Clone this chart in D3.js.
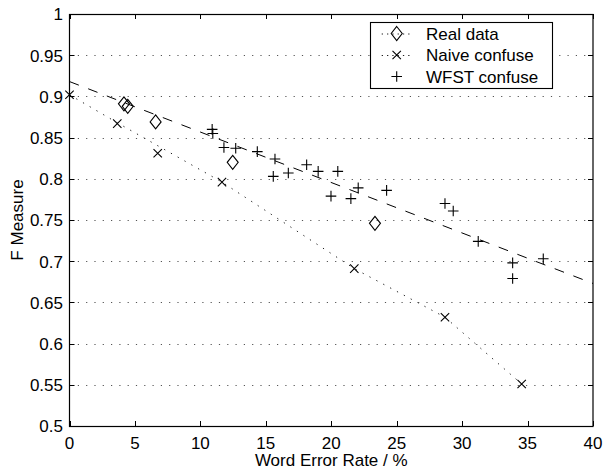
<!DOCTYPE html>
<html>
<head>
<meta charset="utf-8">
<script src="https://cdn.jsdelivr.net/npm/d3@7"></script>
<style>
  html, body { margin: 0; padding: 0; background: #fff; }
  svg { display: block; }
  text { font-family: "Liberation Sans", Arial, Helvetica, sans-serif; fill: #000; }
</style>
</head>
<body>
<script>
// ---- data ----
const realX = [4.16, 4.45, 6.58, 12.47, 23.34];
const realY = [0.891, 0.888, 0.869, 0.820, 0.746];

const naiveX = [0, 3.65, 6.74, 11.65, 21.76, 28.69, 34.55];
const naiveY = [0.902, 0.867, 0.831, 0.796, 0.691, 0.632, 0.551];

const wfstX = [10.9, 10.95, 11.8, 12.7, 14.35, 15.7, 15.57, 16.72, 18.12, 19.0, 20.5, 19.98, 21.5, 22.06, 24.23, 28.69, 29.32, 31.23, 33.86, 33.86, 36.2];
const wfstY = [0.860, 0.855, 0.838, 0.837, 0.833, 0.824, 0.803, 0.807, 0.817, 0.809, 0.809, 0.779, 0.776, 0.789, 0.786, 0.770, 0.761, 0.724, 0.698, 0.679, 0.703];

// fitted trend lines
const wfstFitX = [0, 40];
const wfstFitY = [0.918, 0.673];
const naiveTrendX = [0, 3.65, 11.65, 21.76, 28.69, 34.55];
const naiveTrendY = [0.902, 0.868, 0.796, 0.691, 0.632, 0.551];

const xTicks = [0, 5, 10, 15, 20, 25, 30, 35, 40];
const yTicks = [0.5, 0.55, 0.6, 0.65, 0.7, 0.75, 0.8, 0.85, 0.9, 0.95, 1];
const yTickLabels = ["0.5", "0.55", "0.6", "0.65", "0.7", "0.75", "0.8", "0.85", "0.9", "0.95", "1"];

const legendLabels = ["Real data", "Naive confuse", "WFST confuse"];
const xTitle = "Word Error Rate / %";
const yTitle = "F Measure";

// ---- layout ----
const W = 603, H = 470;
const L = 69.5, R = 593, T = 14, B = 426;
const FS = 17;

const svg = d3.select("body").append("svg").attr("width", W).attr("height", H);
svg.append("rect").attr("width", W).attr("height", H).attr("fill", "#fff");

const x = d3.scaleLinear().domain([0, 40]).range([L, R]);
const y = d3.scaleLinear().domain([0.5, 1]).range([B, T]);

svg.append("clipPath").attr("id", "clip").append("rect")
  .attr("x", L).attr("y", T).attr("width", R - L).attr("height", B - T);

// horizontal dotted grid
svg.append("g").selectAll("line").data(yTicks.slice(1, -1)).join("line")
  .attr("x1", L).attr("x2", R)
  .attr("y1", d => Math.round(y(d)) + 0.5).attr("y2", d => Math.round(y(d)) + 0.5)
  .attr("stroke", "#555").attr("stroke-width", 1).attr("stroke-dasharray", "1.2,7.1");

const plot = svg.append("g").attr("clip-path", "url(#clip)");

// trend lines
const lineGen = (xs, ys) => d3.line().x((d, i) => x(xs[i])).y((d, i) => y(ys[i]))(xs);
plot.append("path").attr("d", lineGen(wfstFitX, wfstFitY))
  .attr("fill", "none").attr("stroke", "#000").attr("stroke-width", 1)
  .attr("stroke-dasharray", "10,10");
plot.append("path").attr("d", lineGen(naiveTrendX, naiveTrendY))
  .attr("fill", "none").attr("stroke", "#222").attr("stroke-width", 1)
  .attr("stroke-dasharray", "1.3,6.5");

// markers
function diamond(g, cx, cy) {
  const w = 5.5, h = 7;
  g.append("path").attr("d", `M${cx},${cy - h}L${cx + w},${cy}L${cx},${cy + h}L${cx - w},${cy}Z`)
    .attr("fill", "none").attr("stroke", "#000").attr("stroke-width", 1.1);
}
function cross(g, cx, cy) {
  const s = 4.2;
  g.append("path").attr("d", `M${cx - s},${cy - s}L${cx + s},${cy + s}M${cx - s},${cy + s}L${cx + s},${cy - s}`)
    .attr("fill", "none").attr("stroke", "#000").attr("stroke-width", 1.1);
}
function plus(g, cx, cy) {
  const s = 5.3;
  g.append("path").attr("d", `M${cx - s},${cy}L${cx + s},${cy}M${cx},${cy - s}L${cx},${cy + s}`)
    .attr("fill", "none").attr("stroke", "#000").attr("stroke-width", 1.1);
}

const mk = svg.append("g");
realX.forEach((v, i) => diamond(mk, x(v), y(realY[i])));
naiveX.forEach((v, i) => cross(mk, x(v), y(naiveY[i])));
wfstX.forEach((v, i) => plus(mk, x(v), y(wfstY[i])));

// axes box
svg.append("rect").attr("x", L).attr("y", T + 0.5).attr("width", R - L).attr("height", B - T)
  .attr("fill", "none").attr("stroke", "#000").attr("stroke-width", 1.2);

// ticks (inside, all sides)
const tk = 5;
const tg = svg.append("g").attr("stroke", "#000").attr("stroke-width", 1);
xTicks.forEach(t => {
  const px = Math.round(x(t)) + 0.5;
  tg.append("line").attr("x1", px).attr("x2", px).attr("y1", B).attr("y2", B - tk);
  tg.append("line").attr("x1", px).attr("x2", px).attr("y1", T).attr("y2", T + tk);
});
yTicks.forEach(t => {
  const py = Math.round(y(t)) + 0.5;
  tg.append("line").attr("x1", L).attr("x2", L + tk).attr("y1", py).attr("y2", py);
  tg.append("line").attr("x1", R).attr("x2", R - tk).attr("y1", py).attr("y2", py);
});

// tick labels
svg.append("g").selectAll("text").data(xTicks).join("text")
  .attr("x", d => x(d)).attr("y", B + 22.5)
  .attr("text-anchor", "middle").attr("font-size", FS).text(d => d);
svg.append("g").selectAll("text").data(yTicks).join("text")
  .attr("x", L - 6.5).attr("y", d => y(d) + 6.3)
  .attr("text-anchor", "end").attr("font-size", FS).text((d, i) => yTickLabels[i]);

// axis titles
svg.append("text").attr("x", (L + R) / 2).attr("y", 466)
  .attr("text-anchor", "middle").attr("font-size", FS).text(xTitle);
svg.append("text").attr("transform", `translate(23.3,${(T + B) / 2}) rotate(-90)`)
  .attr("text-anchor", "middle").attr("font-size", FS).text(yTitle);

// legend
const lg = svg.append("g");
lg.append("rect").attr("x", 370.5).attr("y", 22.5).attr("width", 182).attr("height", 66)
  .attr("fill", "#fff").attr("stroke", "#000").attr("stroke-width", 1.1);
const rowY = [33.5, 55, 76.5];
const lx0 = 381.7, lx1 = 413.3, mx = 396.7, tx = 426;
[0, 1].forEach(i => {
  lg.append("line").attr("x1", lx0).attr("x2", lx1).attr("y1", rowY[i] + 0.5).attr("y2", rowY[i] + 0.5)
    .attr("stroke", "#222").attr("stroke-width", 1).attr("stroke-dasharray", "1.3,4");
});
diamond(lg, mx, rowY[0]);
cross(lg, mx, rowY[1]);
plus(lg, mx, rowY[2]);
legendLabels.forEach((s, i) => {
  lg.append("text").attr("x", tx).attr("y", rowY[i] + 6).attr("font-size", FS).text(s);
});
</script>
</body>
</html>
